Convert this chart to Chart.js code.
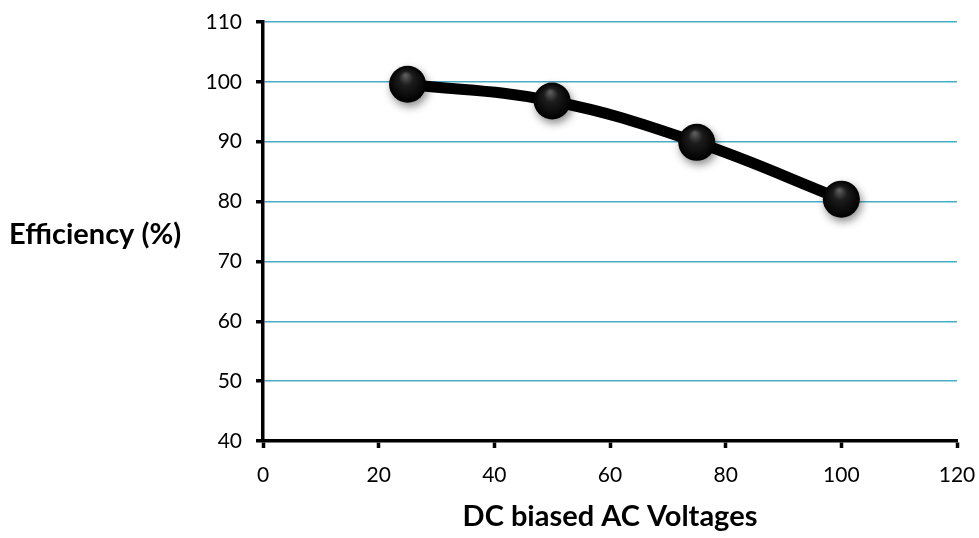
<!DOCTYPE html>
<html>
<head>
<meta charset="utf-8">
<script src="https://cdn.jsdelivr.net/npm/chart.js@4.4.1/dist/chart.umd.min.js"></script>
<style>
  html, body { margin: 0; padding: 0; background: #fff; }
  #wrap { width: 979px; height: 538px; }
</style>
</head>
<body>
<div id="wrap"><canvas id="effChart"></canvas></div>
<script>
// Efficiency measured at each DC biased AC voltage
const voltages = [25, 50, 75, 100];
const efficiency = [99.6, 96.8, 89.9, 80.4];

const xTicks = { min: 0, max: 120, step: 20 };
const yTicks = { min: 40, max: 110, step: 10 };

const FONT = 'Lato, "Open Sans", sans-serif';

// glossy black markers with a soft drop shadow
const spherePoints = {
  id: 'spherePoints',
  afterDatasetsDraw(chart) {
    const ctx = chart.ctx;
    const meta = chart.getDatasetMeta(0);
    const r = 18.5;
    meta.data.forEach(pt => {
      const x = pt.x, y = pt.y;
      ctx.save();
      ctx.shadowColor = 'rgba(0,0,0,0.45)';
      ctx.shadowBlur = 8;
      ctx.shadowOffsetX = 2;
      ctx.shadowOffsetY = 4;
      const g = ctx.createRadialGradient(x - 2, y - 9, 1, x, y, r);
      g.addColorStop(0, '#5a5a5a');
      g.addColorStop(0.35, '#1c1c1c');
      g.addColorStop(1, '#000');
      ctx.fillStyle = g;
      ctx.beginPath();
      ctx.arc(x, y, r, 0, Math.PI * 2);
      ctx.fill();
      ctx.restore();
    });
  }
};

// horizontal y axis caption on the left
const sideTitle = {
  id: 'sideTitle',
  afterDraw(chart) {
    const ctx = chart.ctx;
    const a = chart.chartArea;
    ctx.save();
    ctx.font = 'bold 29px ' + FONT;
    ctx.fillStyle = '#000';
    ctx.textAlign = 'left';
    ctx.textBaseline = 'middle';
    ctx.fillText('Efficiency (%)', 9, (a.top + a.bottom) / 2 + 3);
    ctx.restore();
  }
};

new Chart(document.getElementById('effChart'), {
  type: 'line',
  data: {
    datasets: [{
      data: voltages.map((v, i) => ({ x: v, y: efficiency[i] })),
      borderColor: '#000',
      borderWidth: 11,
      borderCapStyle: 'round',
      tension: 0.4,
      pointRadius: 0,
      fill: false
    }]
  },
  options: {
    responsive: true,
    maintainAspectRatio: false,
    animation: false,
    events: [],
    layout: { padding: { top: 22, right: 0, left: 0, bottom: 0 } },
    plugins: {
      legend: { display: false },
      tooltip: { enabled: false }
    },
    scales: {
      x: {
        type: 'linear',
        min: xTicks.min,
        max: xTicks.max,
        afterFit: s => { s.height = 97; s.paddingLeft = 0; s.paddingRight = 22; },
        ticks: { stepSize: xTicks.step, color: '#000', padding: 15, maxRotation: 0, font: { family: FONT, size: 21 } },
        grid: { drawOnChartArea: false, tickLength: 7, tickColor: '#000', tickWidth: 3.5 },
        border: { color: '#000', width: 3.5 },
        title: {
          display: true,
          text: 'DC biased AC Voltages',
          color: '#000',
          padding: { top: 9 },
          font: { family: FONT, size: 29, weight: 'bold' }
        }
      },
      y: {
        min: yTicks.min,
        max: yTicks.max,
        afterFit: s => { s.width = 263; s.paddingTop = 0; s.paddingBottom = 0; },
        ticks: { stepSize: yTicks.step, color: '#000', padding: 14, font: { family: FONT, size: 21 } },
        grid: { color: '#4bacc6', lineWidth: 1.5, tickLength: 7, tickColor: '#000', tickWidth: 3.5 },
        border: { color: '#000', width: 3.5 }
      }
    }
  },
  plugins: [spherePoints, sideTitle]
});
</script>
</body>
</html>
